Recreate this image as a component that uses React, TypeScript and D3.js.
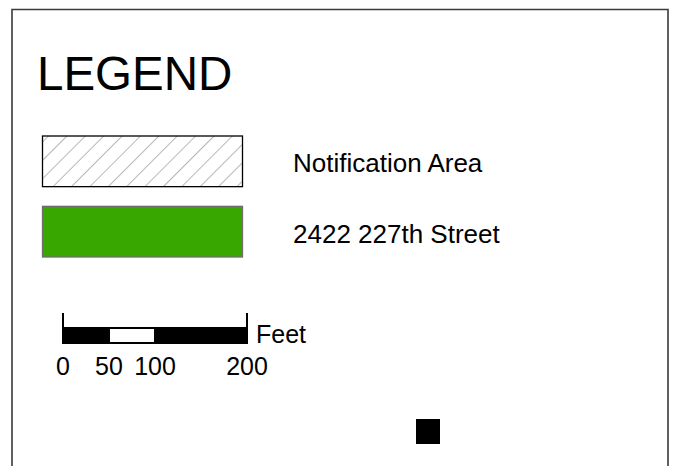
import React from 'react';
import { scaleLinear, scaleBand } from 'd3';

const title = 'LEGEND';
const legendLabels = ['Notification Area', '2422 227th Street'];
const legendKinds = ['hatch', 'solid'];
const scaleTicks = [0, 50, 100, 200];
const scaleSegStarts = [0, 50, 100];
const scaleSegEnds = [50, 100, 200];
const scaleUnit = 'Feet';

const W = 674;
const H = 466;
const FONT = '"Liberation Sans", Arial, sans-serif';

const App = () => {
  // rows of the legend
  const yRow = scaleBand<string>()
    .domain(legendLabels)
    .range([136, 257])
    .paddingInner(0.28)
    .paddingOuter(0);

  // scale bar: 0..200 ft
  const xFeet = scaleLinear().domain([0, 200]).range([63, 247]);
  const barTop = 328;
  const barH = 15;

  return (
    <svg width={W} height={H} style={{ position: 'absolute', left: 0, top: 0, background: '#fff' }}>
      <defs>
        <pattern id="hatch" width={13} height={13} patternUnits="userSpaceOnUse" patternTransform="rotate(45)">
          <line x1={0} y1={0} x2={0} y2={13} stroke="#7a7a7a" strokeWidth={1.1} />
        </pattern>
      </defs>

      {/* frame, open at bottom */}
      <path d={`M12,${H + 2} V9.5 H668 V${H + 2}`} fill="none" stroke="#3a3a3a" strokeWidth={1.6} />

      <text x={37} y={90} fontFamily={FONT} fontSize={47.5} fill="#000">{title}</text>

      {legendLabels.map((lab, i) => {
        const y = yRow(lab)!;
        const h = yRow.bandwidth();
        const hatch = legendKinds[i] === 'hatch';
        return (
          <g key={lab}>
            <rect x={42.5} y={y} width={200} height={h}
              fill={hatch ? 'url(#hatch)' : '#38a800'}
              stroke={hatch ? '#000' : '#6e6e6e'} strokeWidth={1.3} />
            <text x={293} y={y + h / 2 + 11} fontFamily={FONT} fontSize={26} fill="#000">{lab}</text>
          </g>
        );
      })}

      {/* scale bar */}
      {scaleSegStarts.map((s, i) => (
        <rect key={s} x={xFeet(s)} y={barTop} width={xFeet(scaleSegEnds[i]) - xFeet(s)} height={barH}
          fill={i % 2 === 0 ? '#000' : '#fff'} stroke="#000" strokeWidth={2} />
      ))}
      {[0, 200].map(v => (
        <line key={v} x1={xFeet(v)} x2={xFeet(v)} y1={313} y2={barTop + barH} stroke="#000" strokeWidth={2} />
      ))}
      <text x={xFeet(200) + 9} y={barTop + 15} fontFamily={FONT} fontSize={25} fill="#000">{scaleUnit}</text>
      {scaleTicks.map(t => (
        <text key={t} x={xFeet(t)} y={375} textAnchor="middle" fontFamily={FONT} fontSize={25} fill="#000">{t}</text>
      ))}

      {/* north arrow remnant */}
      <rect x={416} y={419} width={24} height={25} fill="#000" />
    </svg>
  );
};

export default App;
